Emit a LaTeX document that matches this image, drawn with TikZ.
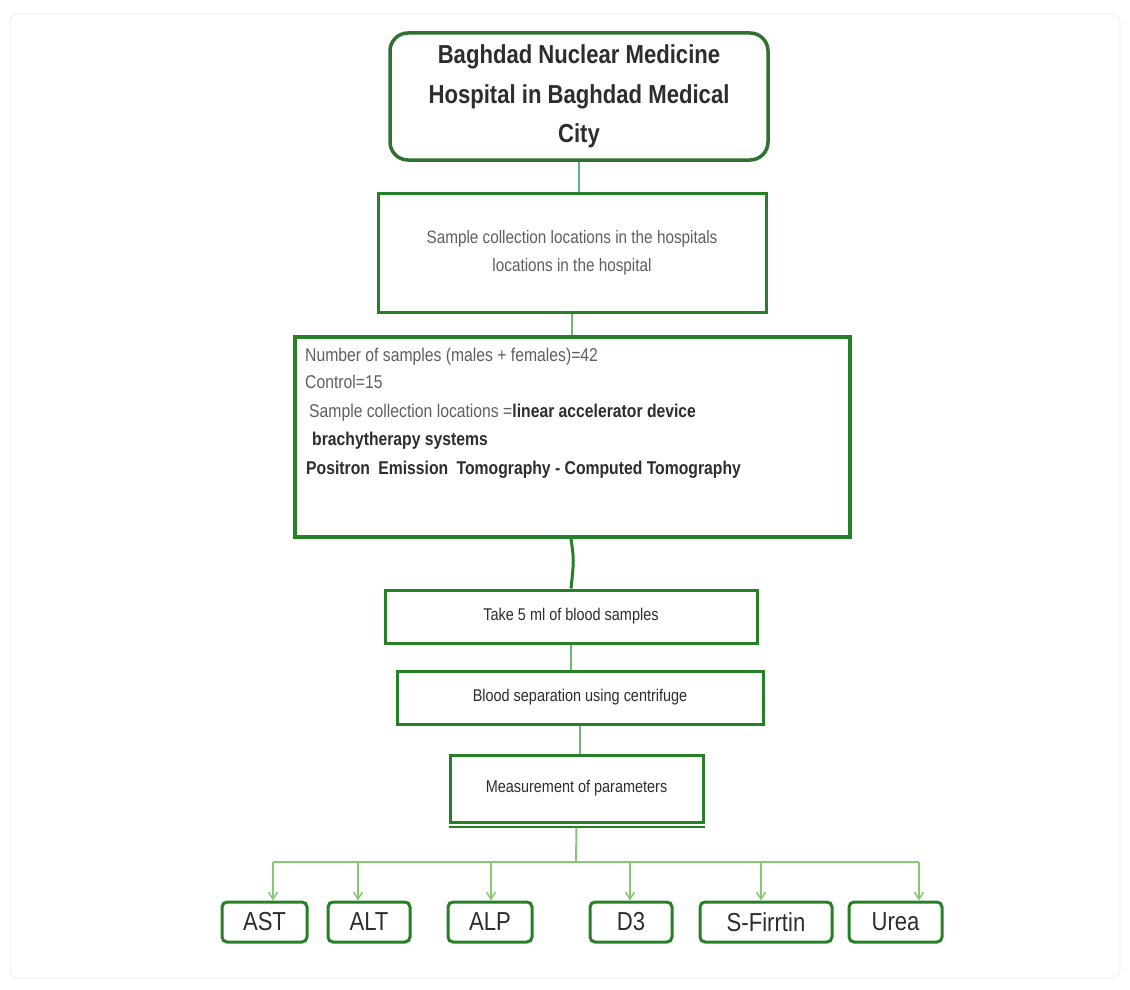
\documentclass[tikz,border=0pt]{standalone}
\usepackage{fontspec}
\setmainfont{Liberation Sans}[FakeStretch=0.85]
\usetikzlibrary{arrows.meta}
\definecolor{boxgreen}{RGB}{38,128,38}
\definecolor{topgreen}{RGB}{48,112,48}
\definecolor{linkgreen}{RGB}{110,185,120}
\definecolor{busgreen}{RGB}{135,200,115}
\definecolor{txtdark}{RGB}{45,45,45}
\definecolor{txtgray}{RGB}{95,95,95}
\begin{document}
\begin{tikzpicture}[x=1pt,y=-1pt,
  box/.style={draw=boxgreen, line width=3pt, fill=white, inner sep=0pt, align=center},
  topbox/.style={draw=topgreen, line width=3.5pt, rounded corners=18pt, fill=white, inner sep=0pt, align=center,
    font=\fontsize{26}{39.6}\selectfont\bfseries, text=txtdark},
  leafbox/.style={draw=boxgreen, line width=3pt, rounded corners=5pt, fill=white, inner sep=0pt,
    minimum height=40pt, font=\fontsize{26}{30}\selectfont, text=txtdark},
  link/.style={draw=linkgreen, line width=1.5pt},
  bus/.style={draw=busgreen, line width=2pt},
  arr/.style={draw=busgreen, line width=2pt, -{Straight Barb[length=7pt,width=9pt,line width=1.5pt]}},
  linetxt/.style={anchor=base west, inner sep=0pt, font=\fontsize{18.5}{22}\selectfont},
]
\fill[white] (0,0) rectangle (1130,990);
\useasboundingbox (0,0) rectangle (1130,990);
\draw[black!6, line width=1pt, rounded corners=8pt] (10,14) rectangle (1120,978);

% main column
\node[topbox, minimum width=378pt, minimum height=127pt] (top) at (579,96.5)
  {Baghdad Nuclear Medicine\\Hospital in Baghdad Medical\\City};
\node[box, minimum width=388pt, minimum height=119pt, text=txtgray,
  font=\fontsize{18}{28}\selectfont] (loc) at (572,252.5)
  {Sample collection locations in the hospitals\\locations in the hospital};
\node[box, line width=3.5pt, minimum width=555pt, minimum height=200pt] (samp) at (572.5,437) {};
\node[linetxt, text=txtgray] (l1) at (305,361) {Number of samples (males + females)=42};
\node[linetxt, text=txtgray] (l2) at (305,388) {Control=15};
\node[linetxt, text=txtgray] (l3) at (309,417) {Sample collection locations =\textbf{\color{txtdark}linear accelerator device}};
\node[linetxt, text=txtdark, font=\fontsize{18.5}{22}\selectfont\bfseries] (l4) at (312,445) {brachytherapy systems};
\node[linetxt, text=txtdark, font=\fontsize{18.5}{22}\selectfont\bfseries] (l5) at (306,474)
  {Positron\hspace{4pt} Emission\hspace{4pt} Tomography - Computed Tomography};

\node[box, minimum width=372pt, minimum height=53pt, text=txtdark,
  font=\fontsize{17}{20}\selectfont] (take) at (571,616.5) {Take 5 ml of blood samples};
\node[box, minimum width=366pt, minimum height=53pt, text=txtdark,
  font=\fontsize{17}{20}\selectfont] (sep) at (580,697.5) {Blood separation using centrifuge};
\node[box, minimum width=253pt, minimum height=67pt, text=txtdark,
  font=\fontsize{17}{20}\selectfont] (meas) at (576.5,788.5) {Measurement of parameters};
\draw[boxgreen, line width=2.5pt] ([yshift=-3.5pt]meas.south west) -- ([yshift=-3.5pt]meas.south east);

% leaf boxes
\node[leafbox, minimum width=85pt] (ast) at (264.5,922) {AST};
\node[leafbox, minimum width=82pt] (alt) at (369,922) {ALT};
\node[leafbox, minimum width=84pt] (alp) at (490,922) {ALP};
\node[leafbox, minimum width=82pt] (d3) at (631,922) {D3};
\node[leafbox, minimum width=132pt] (sf) at (766,922) {S-Firrtin};
\node[leafbox, minimum width=93pt] (urea) at (895.5,922) {Urea};

% connectors
\draw[link, draw={rgb,255:red,95;green,175;blue,150}] (top.south) -- (top.south |- loc.north);
\draw[link] (loc.south) -- (samp.north -| loc.south);
\draw[boxgreen, line width=3pt] (samp.south -| take.north) .. controls (574,560) .. (take.north);
\draw[link] (take.south) -- (take.south |- sep.north);
\draw[link] (sep.south) -- (sep.south |- meas.north);

\coordinate (busc) at (576,862);
\coordinate (b1) at (273,862);
\coordinate (b2) at (358,862);
\coordinate (b3) at (491,862);
\coordinate (b4) at (630,862);
\coordinate (b5) at (761,862);
\coordinate (b6) at (919,862);
\draw[bus] ([yshift=-4pt]meas.south) -- (busc);
\draw[bus] (b1) -- (b6);
\draw[arr] (b1) -- (b1 |- ast.north);
\draw[arr] (b2) -- (b2 |- alt.north);
\draw[arr] (b3) -- (b3 |- alp.north);
\draw[arr] (b4) -- (b4 |- d3.north);
\draw[arr] (b5) -- (b5 |- sf.north);
\draw[arr] (b6) -- (b6 |- urea.north);
\end{tikzpicture}
\end{document}
